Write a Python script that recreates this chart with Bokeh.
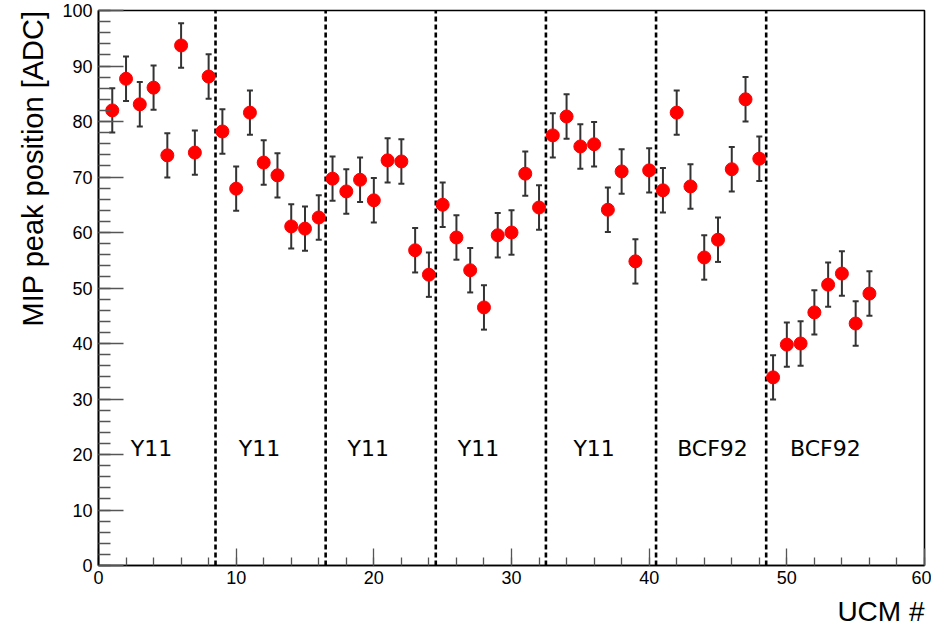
import numpy as np
from bokeh.plotting import figure
from bokeh.models import ColumnDataSource, Whisker, TeeHead, Label, Range1d, FixedTicker, Title
from bokeh.embed import file_html
from bokeh.resources import INLINE

# ---- data ----
ucm = list(range(1, 57))
peak = [82.0, 87.7, 83.1, 86.1, 73.9, 93.7, 74.4, 88.1,
        78.2, 67.9, 81.6, 72.6, 70.3, 61.1, 60.7, 62.7,
        69.7, 67.4, 69.5, 65.8, 73.0, 72.8, 56.8, 52.4,
        65.0, 59.1, 53.2, 46.5, 59.5, 60.0, 70.6, 64.5,
        77.5, 80.9, 75.5, 75.9, 64.1, 71.0, 54.8, 71.2,
        67.6, 81.6, 68.3, 55.5, 58.7, 71.4, 84.0, 73.3,
        33.9, 39.8, 40.0, 45.6, 50.6, 52.6, 43.6, 49.0]
err = [4.0, 4.0, 4.0, 4.0, 4.0, 4.0, 4.0, 4.0,
       4.0, 4.0, 4.0, 4.0, 4.0, 4.0, 4.0, 4.0,
       4.0, 4.0, 4.0, 4.0, 4.0, 4.0, 4.0, 4.0,
       4.0, 4.0, 4.0, 4.0, 4.0, 4.0, 4.0, 4.0,
       4.0, 4.0, 4.0, 4.0, 4.0, 4.0, 4.0, 4.0,
       4.0, 4.0, 4.0, 4.0, 4.0, 4.0, 4.0, 4.0,
       4.0, 4.0, 4.0, 4.0, 4.0, 4.0, 4.0, 4.0]
dividers = [8.5, 16.5, 24.5, 32.5, 40.5, 48.5]
group_names = ["Y11", "Y11", "Y11", "Y11", "Y11", "BCF92", "BCF92"]
group_pos = [3.85, 11.7, 19.6, 27.6, 36.0, 44.6, 52.8]
x_ticks = [0, 10, 20, 30, 40, 50, 60]
y_ticks = [0, 10, 20, 30, 40, 50, 60, 70, 80, 90, 100]
x_title = "UCM #"
y_title = "MIP peak position [ADC]"

src = ColumnDataSource(dict(
    x=ucm, y=peak,
    lower=[v - e for v, e in zip(peak, err)],
    upper=[v + e for v, e in zip(peak, err)],
))

p = figure(width=931, height=635, output_backend="svg", toolbar_location=None,
           x_range=Range1d(0, 60), y_range=Range1d(0, 100),
           min_border_left=98, min_border_right=7, min_border_top=10, min_border_bottom=70)
p.background_fill_color = "white"
p.border_fill_color = "white"
p.outline_line_color = "black"
p.outline_line_width = 1.6
p.grid.visible = False

# axes styling (ROOT-like inward ticks)
for ax in (p.xaxis[0], p.yaxis[0]):
    ax.axis_line_color = "black"
    ax.axis_line_width = 1.6
    ax.major_tick_line_color = "#555555"
    ax.minor_tick_line_color = "#555555"
    ax.major_tick_line_width = 1.3
    ax.minor_tick_line_width = 1.3
    ax.major_tick_out = 0
    ax.minor_tick_out = 0
    ax.major_label_text_font = "Liberation Sans"
    ax.major_label_text_font_size = "18px"
    ax.major_label_text_color = "black"

p.xaxis.ticker = FixedTicker(ticks=x_ticks, minor_ticks=list(range(0, 61, 2)))
p.yaxis.ticker = FixedTicker(ticks=y_ticks, minor_ticks=list(range(0, 101, 2)))
p.xaxis.major_tick_in = 17
p.xaxis.minor_tick_in = 8
p.yaxis.major_tick_in = 25
p.yaxis.minor_tick_in = 12
p.xaxis.major_label_standoff = 5
p.yaxis.major_label_standoff = 6

# axis titles as side-panel titles (right-aligned like ROOT)
p.add_layout(Title(text=x_title, align="right", text_font="Liberation Sans",
                   text_font_style="normal", text_font_size="28px",
                   text_color="black", standoff=14), "below")
p.add_layout(Title(text=y_title, align="right", vertical_align="middle",
                   text_font="Liberation Sans",
                   text_font_style="normal", text_font_size="29px",
                   text_color="black", standoff=20), "left")

# dashed dividers
for d in dividers:
    p.segment(x0=[d], y0=[0], x1=[d], y1=[100], line_color="black",
              line_width=2.6, line_dash="5 3")

# error bars
wh = Whisker(source=src, base="x", lower="lower", upper="upper",
             line_color="#333333", line_width=2,
             upper_head=TeeHead(size=6, line_color="#333333", line_width=2),
             lower_head=TeeHead(size=6, line_color="#333333", line_width=2))
p.add_layout(wh)

p.scatter("x", "y", source=src, size=13, fill_color="#ff0000", line_color="#ff0000")

# group labels
for name, gx in zip(group_names, group_pos):
    p.add_layout(Label(x=gx, y=21.0, text=name, text_align="center",
                       text_baseline="alphabetic", text_font="DejaVu Sans",
                       text_font_size="22px", text_color="black"))

open("out.html", "w").write(file_html(p, INLINE))
